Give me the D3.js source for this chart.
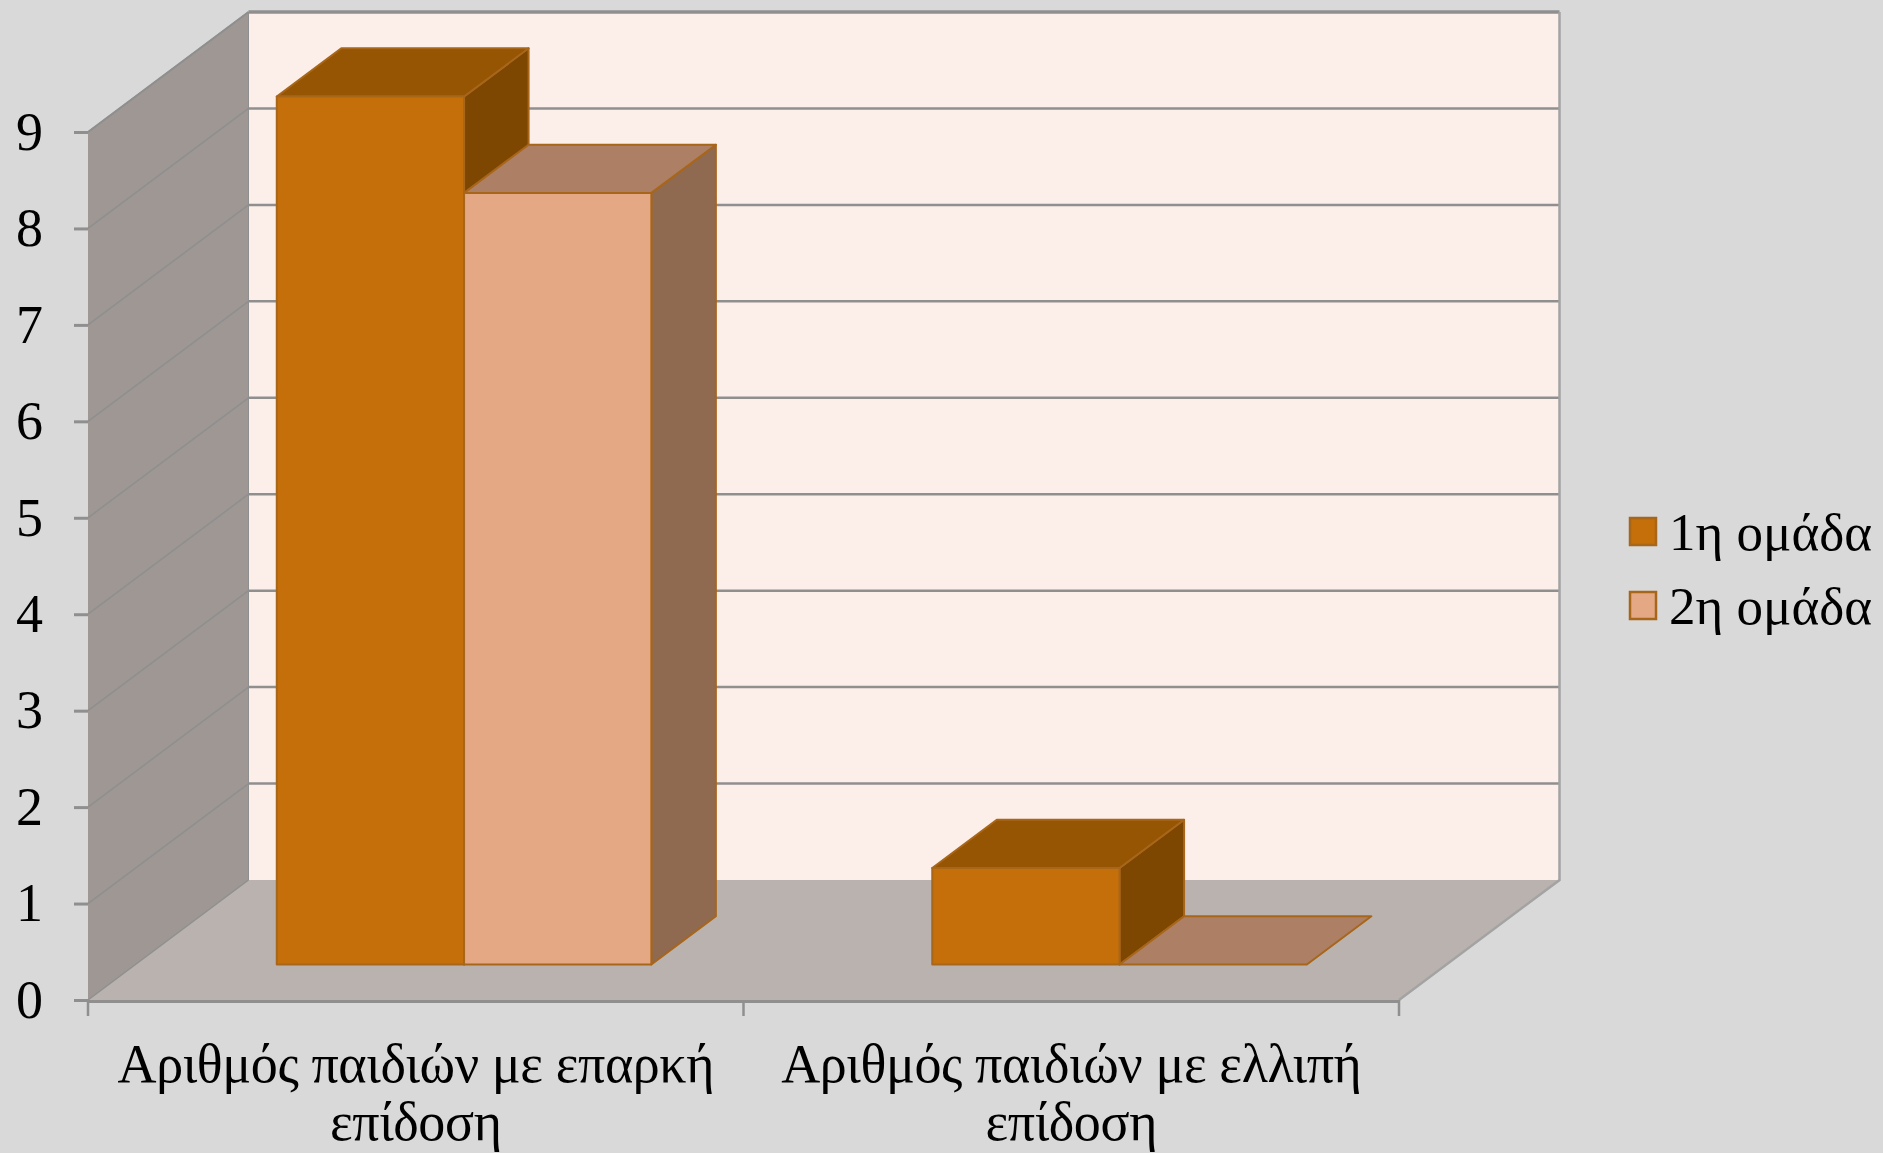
<!DOCTYPE html>
<html>
<head>
<meta charset="utf-8">
<script src="https://cdn.jsdelivr.net/npm/d3@7"></script>
<style>
  html, body { margin: 0; padding: 0; background: #d9d9d9; }
  svg { display: block; }
  text { font-family: "Liberation Serif", serif; fill: #000; }
  .domain { display: none; }
</style>
</head>
<body>
<div id="chart"></div>
<script>
var categories = ["Αριθμός παιδιών με επαρκή επίδοση", "Αριθμός παιδιών με ελλιπή επίδοση"];
var categoryLines = [["Αριθμός παιδιών με επαρκή", "επίδοση"], ["Αριθμός παιδιών με ελλιπή", "επίδοση"]];
var seriesNames = ["1η ομάδα", "2η ομάδα"];
var group1 = [9, 1];
var group2 = [8, 0];
var yTicks = [0, 1, 2, 3, 4, 5, 6, 7, 8, 9];

var w = 1883, h = 1153;

var colors = [
  {front: "#c46f0a", top: "#955503", side: "#7e4701"},
  {front: "#e4a984", top: "#ad7f65", side: "#8f6a50"}
];
var barStroke = "#a8661a";
var gridColor = "#8f8f8f";

var svg = d3.select("#chart").append("svg")
  .attr("width", w)
  .attr("height", h);

// front plane of the box
var x = d3.scaleBand().domain(categories).range([88, 1399]);
var xInner = d3.scaleBand().domain(seriesNames).range([0.8, x.bandwidth() + 0.8])
  .paddingInner(0).paddingOuter(0.75);
var y = d3.scaleLinear().domain([0, 9]).range([1000, 132]);
// depth: 0 is the front edge, 1 the back wall
var depthX = d3.scaleLinear().domain([0, 1]).range([0, 160.5]);
var depthY = d3.scaleLinear().domain([0, 1]).range([0, -120]);
var barFront = 0.296, barBack = 0.698;

function pt(px, value, z) {
  return [px + depthX(z), y(value) + depthY(z)];
}
var poly = d3.line();

var x0 = x.range()[0], x1 = x.range()[1];

// back wall
svg.append("path")
  .attr("d", poly([pt(x0, 0, 1), pt(x1, 0, 1), pt(x1, 9, 1), pt(x0, 9, 1)]) + "Z")
  .attr("fill", "#fceee9");

// side wall
svg.append("path")
  .attr("d", poly([pt(x0, 0, 0), pt(x0, 0, 1), pt(x0, 9, 1), pt(x0, 9, 0)]) + "Z")
  .attr("fill", "#9e9793");

// floor
svg.append("path")
  .attr("d", poly([pt(x0, 0, 0), pt(x1, 0, 0), pt(x1, 0, 1), pt(x0, 0, 1)]) + "Z")
  .attr("fill", "#bab2af");

// gridlines on the back wall
svg.selectAll("line.grid")
  .data(yTicks.slice(1))
  .enter().append("line")
  .attr("class", "grid")
  .attr("x1", pt(x0, 0, 1)[0])
  .attr("x2", pt(x1, 0, 1)[0])
  .attr("y1", function(d) { return pt(x0, d, 1)[1]; })
  .attr("y2", function(d) { return pt(x0, d, 1)[1]; })
  .attr("stroke", gridColor)
  .attr("stroke-width", function(d) { return d == 9 ? 3.5 : 2.5; });

// gridlines on the side wall
svg.selectAll("line.sidegrid")
  .data(yTicks.slice(1))
  .enter().append("line")
  .attr("class", "sidegrid")
  .attr("x1", pt(x0, 0, 0)[0])
  .attr("x2", pt(x0, 0, 1)[0])
  .attr("y1", function(d) { return pt(x0, d, 0)[1]; })
  .attr("y2", function(d) { return pt(x0, d, 1)[1]; })
  .attr("stroke", gridColor)
  .attr("stroke-width", 1.5);

// box edges
svg.append("path")
  .attr("d", poly([pt(x1, 0, 0), pt(x1, 0, 1), pt(x1, 9, 1)]))
  .attr("fill", "none")
  .attr("stroke", "#a3a3a3")
  .attr("stroke-width", 2.5);
svg.append("path")
  .attr("d", poly([pt(x0, 9, 0), pt(x0, 9, 1)]))
  .attr("fill", "none")
  .attr("stroke", gridColor)
  .attr("stroke-width", 2);
svg.append("path")
  .attr("d", poly([pt(x0, 0, 0), pt(x0, 0, 1)]))
  .attr("fill", "none")
  .attr("stroke", gridColor)
  .attr("stroke-width", 1.5);
svg.append("path")
  .attr("d", poly([pt(x0, 0, 1), pt(x0, 9, 1)]))
  .attr("fill", "none")
  .attr("stroke", gridColor)
  .attr("stroke-width", 1);

// bars, left to right so each one overlaps the previous side face
var bars = [];
categories.forEach(function(c, i) {
  seriesNames.forEach(function(s, j) {
    bars.push({category: c, series: s, index: j, value: (j == 0 ? group1 : group2)[i]});
  });
});

var bar = svg.selectAll("g.bar")
  .data(bars)
  .enter().append("g")
  .attr("class", "bar")
  .attr("stroke", barStroke)
  .attr("stroke-width", 2)
  .attr("stroke-linejoin", "round");

function left(d) { return x(d.category) + xInner(d.series); }
function right(d) { return left(d) + xInner.bandwidth(); }

bar.filter(function(d) { return d.value > 0; }).append("path")
  .attr("fill", function(d) { return colors[d.index].side; })
  .attr("d", function(d) {
    return poly([pt(right(d), 0, barFront), pt(right(d), 0, barBack), pt(right(d), d.value, barBack), pt(right(d), d.value, barFront)]) + "Z";
  });
bar.append("path")
  .attr("fill", function(d) { return colors[d.index].top; })
  .attr("d", function(d) {
    return poly([pt(left(d), d.value, barFront), pt(right(d), d.value, barFront), pt(right(d), d.value, barBack), pt(left(d), d.value, barBack)]) + "Z";
  });
bar.filter(function(d) { return d.value > 0; }).append("path")
  .attr("fill", function(d) { return colors[d.index].front; })
  .attr("d", function(d) {
    return poly([pt(left(d), 0, barFront), pt(right(d), 0, barFront), pt(right(d), d.value, barFront), pt(left(d), d.value, barFront)]) + "Z";
  });

// y axis
var yAxis = svg.append("g")
  .attr("transform", "translate(" + x0 + ",0)")
  .call(d3.axisLeft(y).tickValues(yTicks).tickSize(14).tickPadding(0).tickFormat(d3.format("d")));
yAxis.selectAll("line").attr("stroke", gridColor).attr("stroke-width", 3);
yAxis.selectAll("text")
  .attr("x", -45)
  .attr("dy", "0.32em")
  .attr("font-size", 54)
  .attr("text-anchor", "end")
  .style("font-family", "'Liberation Serif', serif");

// x axis
svg.append("path")
  .attr("d", poly([pt(x0, 0, 0), pt(x1, 0, 0)]))
  .attr("transform", "translate(0,1.5)")
  .attr("stroke", gridColor)
  .attr("stroke-width", 3);
svg.selectAll("line.xtick")
  .data([x0, x(categories[1]), x1])
  .enter().append("line")
  .attr("class", "xtick")
  .attr("x1", function(d) { return d; })
  .attr("x2", function(d) { return d; })
  .attr("y1", y(0))
  .attr("y2", y(0) + 16)
  .attr("stroke", gridColor)
  .attr("stroke-width", 2.5);

var xLabel = svg.selectAll("g.xlabel")
  .data(categories)
  .enter().append("g")
  .attr("class", "xlabel")
  .attr("transform", function(d) { return "translate(" + (x(d) + x.bandwidth() / 2) + ",0)"; });
xLabel.selectAll("text")
  .data(function(d, i) { return categoryLines[i]; })
  .enter().append("text")
  .attr("text-anchor", "middle")
  .attr("y", function(d, i) { return 1082 + i * 58; })
  .attr("font-size", 54)
  .attr("letter-spacing", -0.4)
  .text(function(d) { return d; });

// legend
var legend = svg.selectAll("g.legend")
  .data(seriesNames)
  .enter().append("g")
  .attr("class", "legend")
  .attr("transform", function(d, i) { return "translate(0," + (i * 74) + ")"; });
legend.append("rect")
  .attr("x", 1630)
  .attr("y", 518)
  .attr("width", 26)
  .attr("height", 27)
  .attr("fill", function(d, i) { return colors[i].front; })
  .attr("stroke", barStroke)
  .attr("stroke-width", 2.5);
legend.append("text")
  .attr("x", 1872)
  .attr("y", 550)
  .attr("text-anchor", "end")
  .attr("font-size", 53)
  .text(function(d) { return d; });
</script>
</body>
</html>
